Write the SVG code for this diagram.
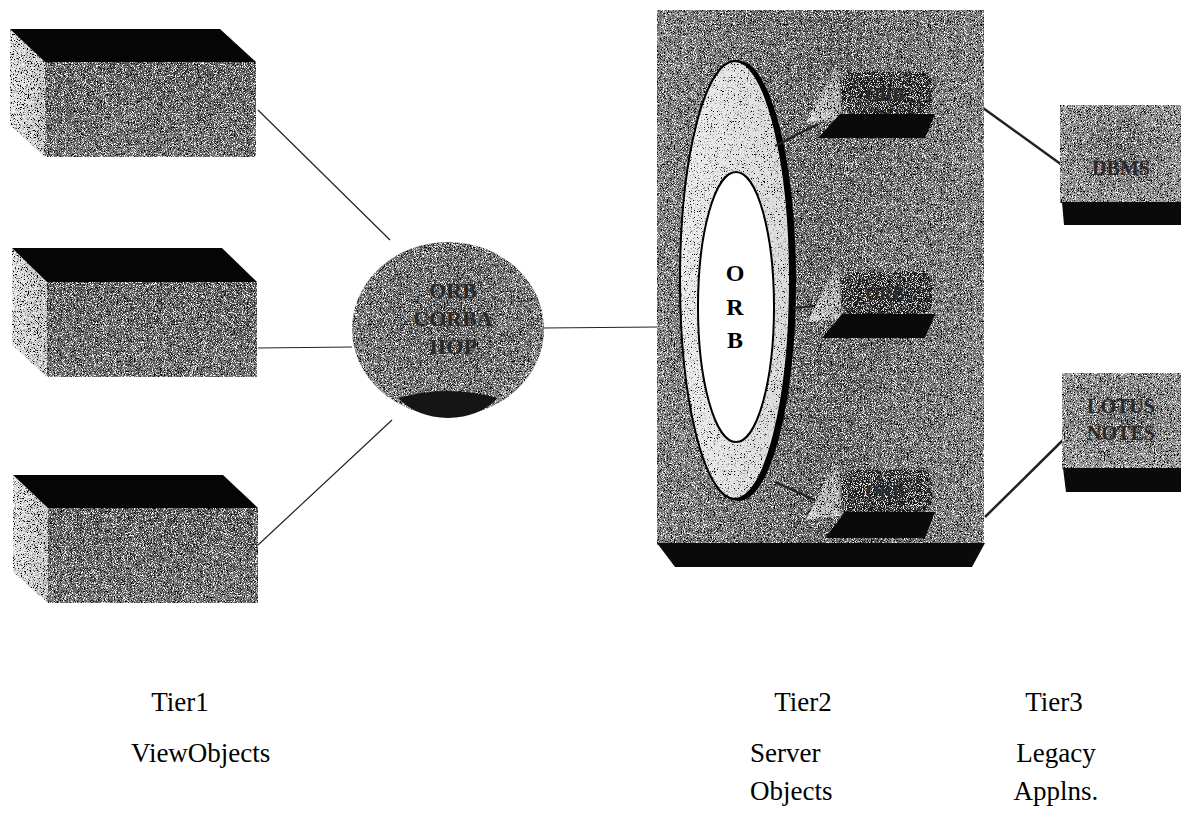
<svg xmlns="http://www.w3.org/2000/svg" width="1191" height="819" viewBox="0 0 1191 819">
<style>
.lbl{font-family:"Liberation Serif","Times New Roman",serif;font-size:27px;fill:#000}
.node-t{font-family:"Liberation Serif","Times New Roman",serif;font-weight:bold;fill:#2a2a2a}
.conn{stroke:#222;fill:none}
.top{fill:#050505}
</style>
<defs>
<filter id="grain" x="0" y="0" width="100%" height="100%">
 <feTurbulence type="fractalNoise" baseFrequency="1.1" numOctaves="1" seed="4" result="noise"/>
 <feColorMatrix in="noise" type="matrix" values="0 0 0 0 1  0 0 0 0 1  0 0 0 0 1  7 0 0 0 -3.6" result="white"/>
 <feComposite in="white" in2="SourceGraphic" operator="in" result="wspk"/>
 <feTurbulence type="fractalNoise" baseFrequency="1.3" numOctaves="1" seed="9" result="noise2"/>
 <feColorMatrix in="noise2" type="matrix" values="0 0 0 0 0  0 0 0 0 0  0 0 0 0 0  7 0 0 0 -3.6" result="black"/>
 <feComposite in="black" in2="SourceGraphic" operator="in" result="bspk"/>
 <feMerge><feMergeNode in="SourceGraphic"/><feMergeNode in="wspk"/><feMergeNode in="bspk"/></feMerge>
</filter>
<filter id="grainLight" x="0" y="0" width="100%" height="100%">
 <feTurbulence type="fractalNoise" baseFrequency="1.3" numOctaves="1" seed="11" result="noise2"/>
 <feColorMatrix in="noise2" type="matrix" values="0 0 0 0 0  0 0 0 0 0  0 0 0 0 0  7 0 0 0 -4.0" result="black"/>
 <feComposite in="black" in2="SourceGraphic" operator="in" result="bspk"/>
 <feMerge><feMergeNode in="SourceGraphic"/><feMergeNode in="bspk"/></feMerge>
</filter>
<linearGradient id="front" x1="0" y1="0" x2="0" y2="1">
 <stop offset="0" stop-color="#5a5a5a"/><stop offset="1" stop-color="#6e6e6e"/>
</linearGradient>
<linearGradient id="side" x1="0" y1="0" x2="1" y2="0">
 <stop offset="0" stop-color="#e6e6e6"/><stop offset="1" stop-color="#c8c8c8"/>
</linearGradient>
<radialGradient id="sphere" cx="0.5" cy="0.45" r="0.55">
 <stop offset="0" stop-color="#5c5c5c"/><stop offset="0.8" stop-color="#6e6e6e"/><stop offset="1" stop-color="#8a8a8a"/>
</radialGradient>
<linearGradient id="panel" x1="0" y1="0" x2="1" y2="0">
 <stop offset="0" stop-color="#7e7e7e"/><stop offset="0.55" stop-color="#606060"/><stop offset="1" stop-color="#7e7e7e"/>
</linearGradient>
<linearGradient id="ring" x1="0" y1="0" x2="1" y2="0">
 <stop offset="0" stop-color="#eeeeee"/><stop offset="1" stop-color="#dcdcdc"/>
</linearGradient>
<linearGradient id="cone" x1="0" y1="1" x2="1" y2="0">
 <stop offset="0" stop-color="#d8d8d8"/><stop offset="1" stop-color="#8a8a8a"/>
</linearGradient>
<radialGradient id="t3" cx="0.5" cy="0.45" r="0.6">
 <stop offset="0" stop-color="#666"/><stop offset="1" stop-color="#959595"/>
</radialGradient>
</defs>
<rect width="1191" height="819" fill="#fff"/>

<g id="connectors">
 <line class="conn" x1="258" y1="110" x2="390" y2="240" stroke-width="1.2"/>
 <line class="conn" x1="258" y1="348" x2="352" y2="347" stroke-width="1.2"/>
 <line class="conn" x1="258" y1="545" x2="392" y2="420" stroke-width="1.2"/>
 <line class="conn" x1="543" y1="328" x2="658" y2="327" stroke-width="1.2"/>
 <line class="conn" x1="983" y1="108" x2="1062" y2="165" stroke-width="2.5"/>
 <line class="conn" x1="985" y1="517" x2="1063" y2="440" stroke-width="2.5"/>
</g>

<g id="tier1-box1">
 <g filter="url(#grain)">
  <polygon points="10,29 45,62 45,157 10,125" fill="url(#side)"/>
  <rect x="45" y="62" width="211" height="95" fill="url(#front)"/>
 </g>
 <polygon class="top" points="10,29 220,29 256,62 45,62"/>
</g>
<g id="tier1-box2">
 <g filter="url(#grain)">
  <polygon points="12,248 47,282 47,377 12,345" fill="url(#side)"/>
  <rect x="47" y="282" width="210" height="95" fill="url(#front)"/>
 </g>
 <polygon class="top" points="12,248 222,248 257,282 47,282"/>
</g>
<g id="tier1-box3">
 <g filter="url(#grain)">
  <polygon points="13,475 48,508 48,603 13,572" fill="url(#side)"/>
  <rect x="48" y="508" width="210" height="95" fill="url(#front)"/>
 </g>
 <polygon class="top" points="13,475 223,475 258,508 48,508"/>
</g>

<g id="orb-hub">
 <g filter="url(#grain)">
  <ellipse cx="448" cy="329" rx="96" ry="87" fill="url(#sphere)"/>
 </g>
 <path d="M398,398 Q448,384 498,398 Q480,417 448,418 Q416,417 398,398 Z" fill="#151515"/>
 <text class="node-t" x="453" y="298" font-size="22" text-anchor="middle">ORB</text>
 <text class="node-t" x="453" y="326" font-size="22" text-anchor="middle">CORBA</text>
 <text class="node-t" x="453" y="354" font-size="22" text-anchor="middle">IIOP</text>
</g>

<g id="tier2-server">
 <g filter="url(#grain)">
  <rect x="657" y="10" width="327" height="535" fill="url(#panel)"/>
 </g>
 <polygon points="657,543 985,543 972,567 675,567" fill="#0a0a0a"/>
</g>

<g id="orb-bus">
 <ellipse cx="739" cy="281" rx="57" ry="220" fill="#000"/>
 <g filter="url(#grainLight)">
  <ellipse cx="735" cy="280" rx="55" ry="219" fill="url(#ring)"/>
 </g>
 <ellipse cx="735" cy="280" rx="55" ry="219" fill="none" stroke="#000" stroke-width="2"/>
 <ellipse cx="736" cy="307" rx="38" ry="135" fill="#fff" stroke="#000" stroke-width="2"/>
 <text class="node-t" x="735" y="281" font-size="24" text-anchor="middle" style="fill:#000">O</text>
 <text class="node-t" x="735" y="315" font-size="24" text-anchor="middle" style="fill:#000">R</text>
 <text class="node-t" x="735" y="348" font-size="24" text-anchor="middle" style="fill:#000">B</text>
</g>

<g id="server-obj1">
 <line class="conn" x1="775" y1="146" x2="818" y2="124" stroke-width="2"/>
 <g filter="url(#grain)">
  <polygon points="806,122 838,62 842,120" fill="url(#cone)"/>
  <rect x="842" y="72" width="90" height="42" rx="12" fill="#2a2a2a"/>
 </g>
 <polygon points="818,138 840,114 935,114 925,138" fill="#0a0a0a"/>
 <text class="node-t" x="885" y="101" font-size="18" text-anchor="middle">ORB</text>
</g>
<g id="server-obj2">
 <line class="conn" x1="793" y1="308" x2="814" y2="306" stroke-width="2"/>
 <g filter="url(#grain)">
  <polygon points="808,322 838,260 842,318" fill="url(#cone)"/>
  <rect x="842" y="272" width="90" height="42" rx="12" fill="#2a2a2a"/>
 </g>
 <polygon points="822,338 842,314 935,314 925,338" fill="#0a0a0a"/>
 <text class="node-t" x="885" y="300" font-size="18" text-anchor="middle">ORB</text>
</g>
<g id="server-obj3">
 <line class="conn" x1="775" y1="482" x2="815" y2="500" stroke-width="2"/>
 <g filter="url(#grain)">
  <polygon points="806,520 838,458 842,515" fill="url(#cone)"/>
  <rect x="842" y="470" width="90" height="42" rx="12" fill="#2a2a2a"/>
 </g>
 <polygon points="825,538 845,512 935,512 925,538" fill="#0a0a0a"/>
 <text class="node-t" x="885" y="498" font-size="18" text-anchor="middle">ORB</text>
</g>

<g id="dbms">
 <g filter="url(#grain)">
  <rect x="1060" y="105" width="121" height="98" fill="url(#t3)"/>
 </g>
 <polygon points="1062,202 1181,202 1181,225 1064,225" fill="#0a0a0a"/>
 <text class="node-t" x="1121" y="175" font-size="20" text-anchor="middle">DBMS</text>
</g>
<g id="lotus-notes">
 <g filter="url(#grain)">
  <rect x="1062" y="373" width="119" height="96" fill="url(#t3)"/>
 </g>
 <polygon points="1063,468 1181,468 1181,492 1066,492" fill="#0a0a0a"/>
 <text class="node-t" x="1121" y="413" font-size="20" text-anchor="middle">LOTUS</text>
 <text class="node-t" x="1121" y="440" font-size="20" text-anchor="middle">NOTES</text>
</g>

<g id="labels">
 <text class="lbl" x="180" y="711" text-anchor="middle">Tier1</text>
 <text class="lbl" x="131" y="762">ViewObjects</text>
 <text class="lbl" x="803" y="711" text-anchor="middle">Tier2</text>
 <text class="lbl" x="750" y="762">Server</text>
 <text class="lbl" x="750" y="800">Objects</text>
 <text class="lbl" x="1054" y="711" text-anchor="middle">Tier3</text>
 <text class="lbl" x="1056" y="762" text-anchor="middle">Legacy</text>
 <text class="lbl" x="1056" y="800" text-anchor="middle">Applns.</text>
</g>
</svg>
